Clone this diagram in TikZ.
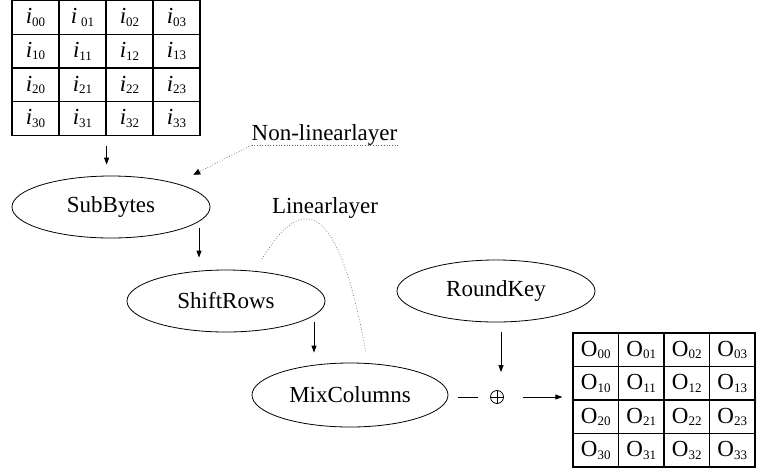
\documentclass[tikz,border=0pt]{standalone}
\usepackage{fontspec}
\setmainfont{Liberation Serif}
\usetikzlibrary{shapes.geometric,arrows.meta,calc}
\newcommand\sbs[1]{\raisebox{-2.5pt}{\fontsize{13}{13}\selectfont #1}}
\newcommand\icell[2]{\ifnum#1#2=1 \textit{i}\,\sbs{#1#2}\else\textit{i}\sbs{#1#2}\fi}
\begin{document}
\begin{tikzpicture}[x=1pt,y=-1pt,font=\fontsize{23}{27}\selectfont,
  proc/.style={ellipse,draw,line width=0.8pt,minimum width=198pt,minimum height=62pt,inner sep=0pt},
  cell/.style={draw,line width=1.2pt,minimum width=47pt,minimum height=33.75pt,inner sep=0pt},
  ocell/.style={cell,minimum width=45.5pt,minimum height=33.5pt},
  arr/.style={line width=0.8pt,-{Triangle[length=7pt,width=5pt]}},
  dots/.style={dotted,line width=0.7pt,black!60}]
\useasboundingbox (0,0) rectangle (757,472);
% input grid
\foreach \r in {0,...,3}{
  \foreach \c in {0,...,3}{
    \node[cell] (i\r\c) at ({35.5+47*\c},{17.4+33.75*\r}) {\icell{\r}{\c}};
  }
}
% output grid
\foreach \r in {0,...,3}{
  \foreach \c in {0,...,3}{
    \node[ocell] (o\r\c) at ({595.75+45.5*\c},{349.75+33.5*\r}) {O\sbs{\r\c}};
  }
}
% processes
\node[proc] (sub) at (111,207) {SubBytes};
\node[proc] (shift) at (226,301) {ShiftRows};
\node[proc,minimum width=196pt,minimum height=64pt] (mix) at (350,395) {MixColumns};
\node[proc] (key) at (496,291) {RoundKey};
\node[circle,draw,line width=0.8pt,minimum size=13pt,inner sep=0pt,
  path picture={\draw[line width=0.8pt] (path picture bounding box.north) -- (path picture bounding box.south)
  (path picture bounding box.west) -- (path picture bounding box.east);}] (xor) at (497,397) {};
% labels
\node[inner sep=0pt,anchor=base] (nl) at (324.5,140) {Non-linearlayer};
\node[inner sep=0pt,anchor=base] (ll) at (325,213) {Linearlayer};
% connectors
\draw[arr] ($(i31.south east)+(0,10)$) coordinate (s0) -- ($(s0 |- sub.north)+(0,-11)$);
\draw[arr] ($(sub.south)+(88,-10)$) coordinate (s1) -- ($(s1 |- shift.north)+(0,-12)$);
\draw[arr] ($(shift.south)+(88,-10)$) coordinate (s2) -- ($(s2 |- mix.north)+(0,-10)$);
\draw[arr] ($(key.south)+(5,10)$) coordinate (s3) -- ($(s3 |- xor.north)+(0,-18)$);
\draw[line width=0.8pt] ($(xor.west)+(-32,0)$) -- ($(xor.west)+(-12,0)$);
\draw[arr] ($(xor.east)+(19,0)$) -- ($(xor.east -| o00.west)+(-10,0)$);
% dotted annotations
\draw[dots] (nl.south west) -- (nl.south east);
\draw[dots,-{Triangle[length=7pt,width=6pt,black]}] (nl.south west) -- ($(sub.north east)+(12,-10)$);
\coordinate (l1) at (262,259);
\coordinate (l2) at (366,353);
\draw[dots] (l1) .. controls (295,205) and (335,180) .. (l2);
\end{tikzpicture}
\end{document}
